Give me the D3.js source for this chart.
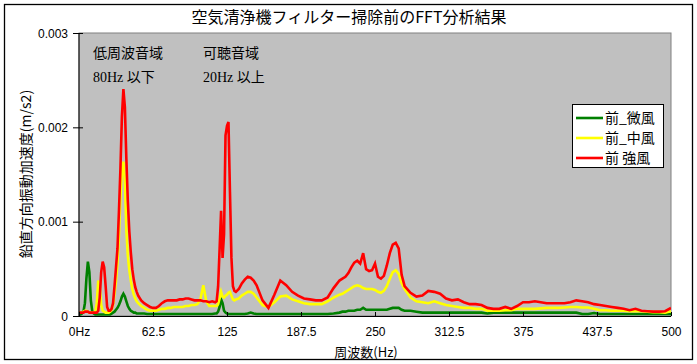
<!DOCTYPE html>
<html>
<head>
<meta charset="utf-8">
<script src="https://cdn.jsdelivr.net/npm/d3@7"></script>
<style>
  body { margin: 0; background: #fff; }
  svg { display: block; }
</style>
</head>
<body>
<div id="chart"></div>
<script>
// frequency axis (Hz)
const freqHz = [
  0,1.25,2.5,3.75,5,6.25,7.5,8.75,10,11.25,12.5,13.75,15,16.25,17.5,18.75,20,21.25,22.5,23.75,
  25,26.25,27.5,28.75,30,31.25,32.5,33.75,35,36.25,37.5,38.75,40,41.25,42.5,43.75,45,46.25,47.5,48.75,50,
  52.5,55,57.5,60,62.5,65,67.5,70,72.5,75,77.5,80,82.5,85,87.5,90,92.5,95,97.5,100,102.5,105,107.5,110,112.5,115,
  116.25,117.5,118.75,120,121.25,122.5,123.75,125,126.25,127.5,128.75,130,131.25,132.5,
  135,137.5,140,142.5,145,147.5,150,
  155,160,165,170,175,180,185,190,195,200,205,210,215,220,
  222.5,225,227.5,230,232.5,235,237.5,240,242.5,245,247.5,250,252.5,255,257.5,260,262.5,265,267.5,270,272.5,275,
  280,285,290,295,300,305,310,315,320,325,330,335,340,345,350,355,360,365,370,375,
  380,385,390,395,400,405,410,415,420,425,430,435,440,445,450,455,460,465,470,475,480,485,490,495,500
];

// vertical acceleration, in units of 0.001 m/s2
const weak = [
  0,0,0.01,0.03,0.12,0.38,0.56,0.45,0.15,0.03, 0.01,0,0,0,0,0,0,0,0,0,
  0,0,0.01,0.02,0.03,0.05,0.07,0.1,0.14,0.19, 0.22,0.19,0.14,0.09,0.06,0.04,0.03,0.02,0.02,0.01, 0.01,
  0.01,0.01,0.005,0.005,0.005,0.005,0.005,0.005,0.005,0.005,0.005,0.005,0.005,0.005,0.005,0.005,0.005,0.005,0.005,0.005,0.005,0.005,0.005,0.005,0.005,0.01,
  0.01,0.03,0.08,0.16,0.12,0.04,0.02,0.01,0.005,0.005,0.005,0.005,0.005,0.005,
  0.005,0.005,0.005,0.01,0.02,0.01,0.005,
  0.005,0.005,0.005,0.005,0.005,0.005,0.005,0.005,0.005,0.005,0.005,0.005,0.01,0.02,
  0.03,0.03,0.04,0.04,0.04,0.05,0.05,0.07,0.05,0.05,0.05,0.05,0.05,0.05,0.05,0.05,0.06,0.07,0.07,0.07,0.05,0.04,
  0.04,0.03,0.02,0.02,0.02,0.02,0.02,0.02,0.02,0.02,0.02,0.02,0.02,0.01,0.02,0.02,0.02,0.02,0.02,0.02,
  0.02,0.02,0.02,0.02,0.02,0.02,0.02,0.02,0.02,0.005,0.005,0.015,0.005,0.005,0.005,0.005,0.005,0.005,0.005,0.005,0.005,0.005,0.005,0.005,0.005
];
const mid = [
  0.02,0.02,0.02,0.03,0.04,0.04,0.03,0.02,0.02,0.02, 0.02,0.03,0.12,0.36,0.30,0.10,0.04,0.03,0.02,0.02,
  0.02,0.03,0.05,0.1,0.22,0.36,0.55,0.84,1.25,1.52, 1.62,1.42,0.9,0.62,0.47,0.36,0.27,0.21,0.17,0.14, 0.12,
  0.09,0.07,0.05,0.04,0.04,0.04,0.05,0.06,0.06,0.07,0.07,0.08,0.08,0.08,0.08,0.09,0.09,0.1,0.1,0.11,0.16,0.31,0.14,0.09,0.09,0.09,
  0.09,0.11,0.17,0.24,0.19,0.18,0.2,0.21,0.23,0.24,0.2,0.16,0.15,0.16,
  0.17,0.2,0.22,0.24,0.24,0.22,0.18,
  0.1,0.08,0.13,0.19,0.2,0.16,0.14,0.12,0.11,0.11,0.11,0.14,0.18,0.21,
  0.22,0.24,0.26,0.28,0.3,0.31,0.3,0.28,0.27,0.27,0.27,0.26,0.24,0.23,0.25,0.3,0.38,0.45,0.47,0.43,0.33,0.27,
  0.18,0.14,0.13,0.12,0.14,0.12,0.1,0.09,0.08,0.07,0.07,0.06,0.06,0.04,0.04,0.04,0.045,0.045,0.06,0.06,
  0.06,0.06,0.065,0.07,0.07,0.07,0.075,0.08,0.08,0.075,0.075,0.06,0.045,0.045,0.04,0.04,0.04,0.035,0.035,0.035,0.03,0.025,0.025,0.02,0.035
];
const strong = [
  0.02,0.02,0.02,0.02,0.03,0.03,0.03,0.02,0.02,0.02, 0.02,0.02,0.02,0.04,0.18,0.45,0.56,0.50,0.30,0.08,
  0.04,0.04,0.06,0.12,0.3,0.5,0.7,1.1,1.55,2.1, 2.39,2.2,1.65,1.2,0.88,0.66,0.48,0.37,0.29,0.24, 0.2,
  0.15,0.12,0.1,0.08,0.07,0.07,0.09,0.12,0.14,0.15,0.15,0.15,0.15,0.16,0.16,0.17,0.17,0.16,0.15,0.15,0.15,0.14,0.14,0.13,0.14,0.13,
  0.14,0.3,0.69,1.1,0.6,0.85,1.9,2.0,2.04,1.3,0.6,0.3,0.25,0.24,
  0.27,0.33,0.37,0.4,0.39,0.36,0.31,
  0.15,0.07,0.21,0.36,0.31,0.24,0.2,0.17,0.16,0.15,0.15,0.18,0.28,0.36,
  0.38,0.4,0.44,0.5,0.55,0.57,0.54,0.65,0.48,0.46,0.47,0.54,0.4,0.38,0.41,0.52,0.65,0.74,0.76,0.7,0.42,0.3,
  0.23,0.19,0.2,0.25,0.24,0.22,0.17,0.15,0.16,0.13,0.11,0.11,0.1,0.07,0.06,0.06,0.08,0.06,0.09,0.13,
  0.13,0.14,0.13,0.12,0.12,0.12,0.12,0.13,0.15,0.14,0.13,0.11,0.1,0.09,0.08,0.07,0.06,0.045,0.06,0.04,0.035,0.03,0.03,0.035,0.07
];

const seriesNames = ["前_微風", "前_中風", "前 強風"];
const seriesColors = ["#008000", "#ffff00", "#ff0000"];

const yTicks = [0, 0.001, 0.002, 0.003];
const yTickLabels = ["0", "0.001", "0.002", "0.003"];
const xTicks = [0, 62.5, 125, 187.5, 250, 312.5, 375, 437.5, 500];
const xTickLabels = ["0Hz", "62.5", "125", "187.5", "250", "312.5", "375", "437.5", "500"];

const titleText = "空気清浄機フィルター掃除前のFFT分析結果";
const yTitle = "鉛直方向振動加速度(m/s2)";
const xTitle = "周波数(Hz)";
const noteLines = [["低周波音域", "80Hz 以下"], ["可聴音域", "20Hz 以上"]];

(function () {
    const width = 697, height = 364
    const plot = { left: 79, right: 671, top: 33, bottom: 316 }
    const jp = "'Noto Sans CJK JP', sans-serif"
    const num = "'Liberation Sans', Arial, sans-serif"

    const svg = d3.select("#chart").append("svg")
        .attr("width", width).attr("height", height)

    // chart frame
    svg.append("rect")
        .attr("x", 4.5).attr("y", 4.5).attr("width", 688).attr("height", 355)
        .attr("fill", "#fff").attr("stroke", "#000").attr("stroke-width", 1.3)

    var x = d3.scaleLinear().domain([0, 500]).range([plot.left, plot.right])
    var y = d3.scaleLinear().domain([0, 0.003]).range([plot.bottom, plot.top])

    // plot area
    svg.append("rect")
        .attr("x", plot.left).attr("y", plot.top)
        .attr("width", plot.right - plot.left).attr("height", plot.bottom - plot.top)
        .attr("fill", "#c0c0c0").attr("stroke", "#808080").attr("stroke-width", 1)

    svg.append("clipPath").attr("id", "clip").append("rect")
        .attr("x", plot.left).attr("y", plot.top - 2)
        .attr("width", plot.right - plot.left).attr("height", plot.bottom - plot.top + 2)

    const rows = freqHz.map((f, i) => ({ f: f, v: [weak[i], mid[i], strong[i]] }))

    const lines = svg.append("g").attr("clip-path", "url(#clip)")
    seriesNames.forEach((name, k) => {
        const line = d3.line()
            .x(d => x(d.f))
            .y(d => y(d.v[k] * 0.001) - 1.5)
        lines.append("path")
            .datum(rows)
            .attr("d", line)
            .attr("fill", "none")
            .attr("stroke", seriesColors[k])
            .attr("stroke-width", 2.6)
            .attr("stroke-linejoin", "miter")
    })

    // axes
    const yAxis = svg.append("g").attr("transform", `translate(${plot.left},0)`)
        .call(d3.axisLeft(y).tickValues(yTicks).tickSize(0).tickFormat((d, i) => yTickLabels[i]))
    yAxis.select(".domain").remove()
    yAxis.selectAll(".tick").append("line")
        .attr("x1", -6).attr("x2", 4).attr("stroke", "#000")
    yAxis.selectAll("text").attr("x", -11).attr("dy", "0.35em")
        .style("font-family", num).style("font-size", "12px").attr("fill", "#000")

    const xAxis = svg.append("g").attr("transform", `translate(0,${plot.bottom})`)
        .call(d3.axisBottom(x).tickValues(xTicks).tickSize(0).tickFormat((d, i) => xTickLabels[i]))
    xAxis.select(".domain").remove()
    xAxis.selectAll(".tick").append("line")
        .attr("y1", 0).attr("y2", -4).attr("stroke", "#000")
    xAxis.selectAll("text").attr("y", 11).attr("dy", "0.71em")
        .style("font-family", num).style("font-size", "12px").attr("fill", "#000")

    svg.append("line")
        .attr("x1", plot.left).attr("x2", plot.left).attr("y1", plot.top).attr("y2", plot.bottom)
        .attr("stroke", "#000")
    svg.append("line")
        .attr("x1", plot.left).attr("x2", plot.right).attr("y1", plot.bottom + 0.5).attr("y2", plot.bottom + 0.5)
        .attr("stroke", "#000")

    // titles
    svg.append("text").attr("x", 349).attr("y", 23).attr("text-anchor", "middle")
        .style("font-family", jp).style("font-size", "16px").text(titleText)
    svg.append("text").attr("x", 366).attr("y", 357).attr("text-anchor", "middle")
        .style("font-family", jp).style("font-size", "13px").text(xTitle)
    svg.append("text")
        .attr("transform", "translate(31,174) rotate(-90)")
        .attr("text-anchor", "middle")
        .style("font-family", jp).style("font-size", "14px").text(yTitle)

    // region notes
    const noteX = [93, 203]
    noteLines.forEach((pair, i) => {
        pair.forEach((t, j) => {
            svg.append("text").attr("x", noteX[i]).attr("y", 58 + j * 24)
                .style("font-family", "'Liberation Serif', 'Noto Sans CJK JP', serif")
                .style("font-size", "14px").text(t)
        })
    })

    // legend
    const lg = svg.append("g").attr("transform", "translate(572,104)")
    lg.append("rect").attr("x", 0.5).attr("y", 0.5).attr("width", 91).attr("height", 63)
        .attr("fill", "#fff").attr("stroke", "#000")
    seriesNames.forEach((name, k) => {
        const yy = 14 + k * 20
        lg.append("line").attr("x1", 4).attr("x2", 31).attr("y1", yy).attr("y2", yy)
            .attr("stroke", seriesColors[k]).attr("stroke-width", 2.6)
        lg.append("text").attr("x", 33).attr("y", yy).attr("dy", "0.36em")
            .style("font-family", jp).style("font-size", "14px").text(name)
    })
})();
</script>
</body>
</html>
